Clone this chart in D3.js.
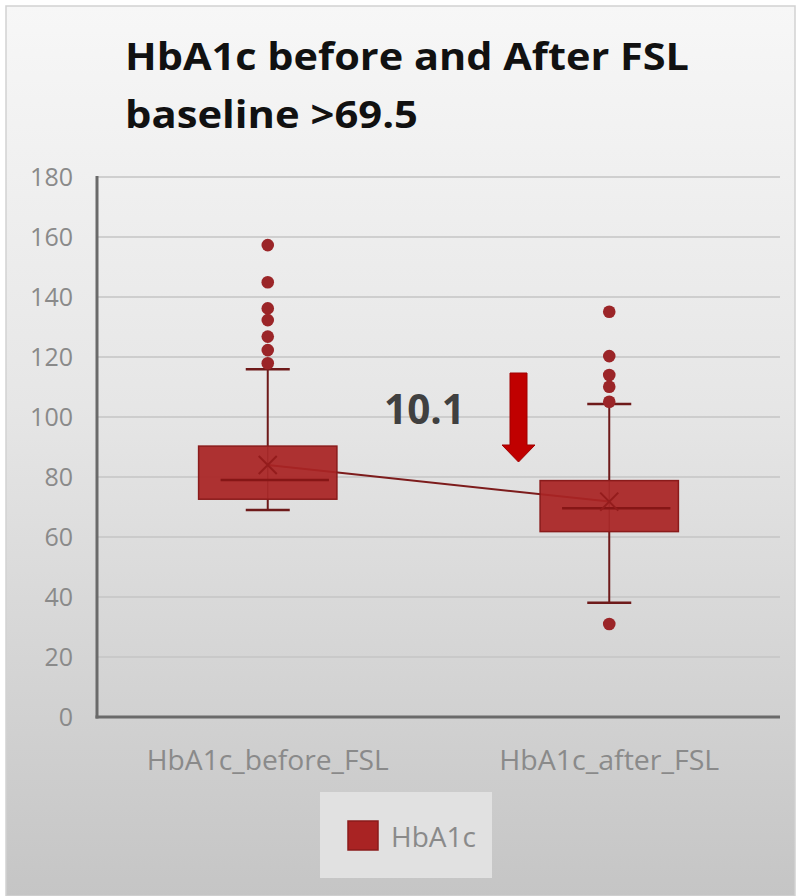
<!DOCTYPE html>
<html>
<head>
<meta charset="utf-8">
<script src="https://cdn.jsdelivr.net/npm/d3@7"></script>
<style>
html,body{margin:0;padding:0;background:#fff;}
svg{display:block;}
</style>
</head>
<body>
<svg id="chart" width="798" height="896"></svg>
<script>
const categories = ["HbA1c_before_FSL", "HbA1c_after_FSL"];
const whiskerLow  = [69.0, 38.1];
const q1          = [72.6, 61.8];
const median      = [79.0, 69.6];
const q3          = [90.3, 78.8];
const whiskerHigh = [115.9, 104.3];
const mean        = [84.0, 71.8];
const outliers = [
  [157.3, 144.9, 136.2, 132.3, 126.8, 122.3, 117.9],
  [135.1, 120.3, 114.0, 110.1, 105.1, 31.0]
];
const yTicks = [0, 20, 40, 60, 80, 100, 120, 140, 160, 180];
const titleLines = ["HbA1c before and After FSL", "baseline >69.5"];
const annotation = "10.1";
const seriesName = "HbA1c";

const svg = d3.select("#chart");
const defs = svg.append("defs");
const grad = defs.append("linearGradient").attr("id","bg").attr("x1",0).attr("y1",0).attr("x2",0).attr("y2",1);
grad.append("stop").attr("offset","0%").attr("stop-color","#f7f7f7");
grad.append("stop").attr("offset","45%").attr("stop-color","#e6e6e6");
grad.append("stop").attr("offset","100%").attr("stop-color","#c5c5c5");

svg.append("rect").attr("x",6).attr("y",6).attr("width",789).attr("height",890)
  .attr("fill","url(#bg)").attr("stroke","#d2d2d2").attr("stroke-width",1.5);

const x = d3.scaleBand().domain(categories).range([97, 780]);
const y = d3.scaleLinear().domain([0, 180]).range([717, 177]);

// gridlines
svg.append("g").selectAll("line").data(yTicks.filter(d=>d>0)).join("line")
  .attr("x1",97).attr("x2",780).attr("y1",d=>y(d)).attr("y2",d=>y(d))
  .attr("stroke","#c4c4c4").attr("stroke-width",1.5);

// y tick labels via axis
const yAxis = svg.append("g").attr("transform","translate(97,0)")
  .call(d3.axisLeft(y).tickValues(yTicks).tickSize(0).tickPadding(24));
yAxis.select(".domain").remove();
yAxis.selectAll("text").attr("font-family","'Open Sans', sans-serif").attr("font-size",25)
  .attr("fill","#8a8a8a");

// x labels via axis
const xAxis = svg.append("g").attr("transform","translate(0,717)")
  .call(d3.axisBottom(x).tickSize(0).tickPadding(34));
xAxis.select(".domain").remove();
xAxis.selectAll("text").attr("font-family","'Open Sans', sans-serif").attr("font-size",27)
  .attr("fill","#8a8a8a")
  .attr("textLength",(d,i)=> i===0 ? 242 : 220).attr("lengthAdjust","spacingAndGlyphs");

// axis lines
svg.append("line").attr("x1",97).attr("x2",97).attr("y1",y(180)-1).attr("y2",y(0)+1.5)
  .attr("stroke","#6a6a6a").attr("stroke-width",3);
svg.append("line").attr("x1",95.5).attr("x2",780).attr("y1",y(0)).attr("y2",y(0))
  .attr("stroke","#6a6a6a").attr("stroke-width",3);

const cx = d => x(d) + x.bandwidth()/2;
const boxW = x.bandwidth()*0.405;
const capW = 44;
const boxFill = "#a92323", boxStroke = "#8a1b1b", dark = "#6e1a1a";

// mean line (drawn beneath boxes, visible through their translucent fill)
svg.append("line").attr("x1",cx(categories[0])).attr("y1",y(mean[0]))
  .attr("x2",cx(categories[1])).attr("y2",y(mean[1]))
  .attr("stroke","#7d1c1c").attr("stroke-width",2);

const g = svg.append("g");
categories.forEach((c,i)=>{
  const xc = cx(c);
  g.append("line").attr("x1",xc).attr("x2",xc).attr("y1",y(q3[i])).attr("y2",y(whiskerHigh[i]))
    .attr("stroke",dark).attr("stroke-width",2);
  g.append("line").attr("x1",xc).attr("x2",xc).attr("y1",y(q1[i])).attr("y2",y(whiskerLow[i]))
    .attr("stroke",dark).attr("stroke-width",2);
  g.append("line").attr("x1",xc-capW/2).attr("x2",xc+capW/2).attr("y1",y(whiskerHigh[i])).attr("y2",y(whiskerHigh[i]))
    .attr("stroke",dark).attr("stroke-width",2.5);
  g.append("line").attr("x1",xc-capW/2).attr("x2",xc+capW/2).attr("y1",y(whiskerLow[i])).attr("y2",y(whiskerLow[i]))
    .attr("stroke",dark).attr("stroke-width",2.5);
  g.append("rect").attr("x",xc-boxW/2).attr("y",y(q3[i])).attr("width",boxW).attr("height",y(q1[i])-y(q3[i]))
    .attr("fill",boxFill).attr("fill-opacity",0.93).attr("stroke",boxStroke).attr("stroke-width",1.5);
  g.append("line").attr("x1",xc).attr("x2",xc).attr("y1",y(q3[i])).attr("y2",y(q1[i]))
    .attr("stroke","#9a1f1f").attr("stroke-width",1).attr("opacity",0.6);
  g.append("line").attr("x1",xc-boxW/2+22).attr("x2",xc+boxW/2-8).attr("y1",y(median[i])).attr("y2",y(median[i]))
    .attr("stroke","#861616").attr("stroke-width",2.5);
  const m = y(mean[i]), s = 9;
  g.append("path").attr("d",`M${xc-s},${m-s}L${xc+s},${m+s}M${xc-s},${m+s}L${xc+s},${m-s}`)
    .attr("stroke","#941c1c").attr("stroke-width",2).attr("fill","none");
  g.selectAll(null).data(outliers[i]).join("circle")
    .attr("cx",xc).attr("cy",d=>y(d)).attr("r",6.3).attr("fill","#9b2528");
});

// annotation
svg.append("text").attr("x",384).attr("y",424).text(annotation)
  .attr("font-family","'Open Sans', sans-serif").attr("font-weight","bold").attr("font-size",41)
  .attr("fill","#404040").attr("textLength",81).attr("lengthAdjust","spacingAndGlyphs");

// arrow
svg.append("path")
  .attr("d","M510,373 L527,373 L527,445 L535,445 L518.5,462 L502,445 L510,445 Z")
  .attr("fill","#c00000").attr("stroke","#a00000").attr("stroke-width",1);

// title
const tt = svg.append("g").attr("font-family","'Open Sans', sans-serif").attr("font-weight","bold")
  .attr("font-size",38).attr("fill","#111");
tt.append("text").attr("x",125).attr("y",70).text(titleLines[0]).attr("textLength",564).attr("lengthAdjust","spacingAndGlyphs");
tt.append("text").attr("x",125).attr("y",128).text(titleLines[1]).attr("textLength",293).attr("lengthAdjust","spacingAndGlyphs");

// legend
svg.append("rect").attr("x",320).attr("y",792).attr("width",172).attr("height",86).attr("fill","#e1e1e1");
svg.append("rect").attr("x",348).attr("y",821).attr("width",30).attr("height",29)
  .attr("fill",boxFill).attr("stroke",boxStroke).attr("stroke-width",1.5);
svg.append("text").attr("x",391).attr("y",847).text(seriesName)
  .attr("font-family","'Open Sans', sans-serif").attr("font-size",28).attr("fill","#8a8a8a");
</script>
</body>
</html>
